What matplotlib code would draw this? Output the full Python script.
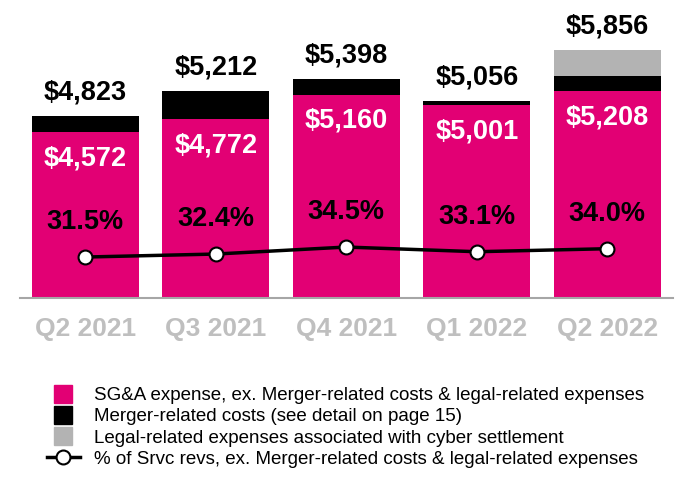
import matplotlib
matplotlib.use("Agg")
import matplotlib.pyplot as plt
from matplotlib.lines import Line2D
import numpy as np

plt.rcParams["font.family"] = ["Liberation Sans", "DejaVu Sans"]

quarters = ["Q2 2021", "Q3 2021", "Q4 2021", "Q1 2022", "Q2 2022"]
sga_ex = [4572, 4772, 5160, 5001, 5208]
merger_costs = [251, 440, 238, 55, 248]
legal_costs = [0, 0, 0, 0, 400]
totals = [4823, 5212, 5398, 5056, 5856]
pct_srvc = [31.5, 32.4, 34.5, 33.1, 34.0]

MAGENTA = "#E20074"
GREY = "#B3B3B3"

fig = plt.figure(figsize=(6.9, 5), dpi=100)
ax = fig.add_axes([20 / 690, 202 / 500, 652.5 / 690, 298 / 500])
ax2 = ax.twinx()

x = np.arange(len(quarters))
w = 0.82
sga = np.array(sga_ex)
mrg = np.array(merger_costs)
lgl = np.array(legal_costs)

ax.bar(x, sga, w, color=MAGENTA, zorder=2)
ax.bar(x, mrg, w, bottom=sga, color="black", zorder=2)
ax.bar(x, lgl, w, bottom=sga + mrg, color=GREY, zorder=2)

ax.set_ylim(1975, 6640)
ax.set_xlim(-0.5, len(quarters) - 0.5)

for xi, s, t in zip(x, sga_ex, totals):
    ax.annotate(f"${s:,}", (xi, s), xytext=(0, -19), textcoords="offset points",
                ha="center", va="center", color="white", fontsize=19.5,
                fontweight="bold")
    ax.annotate(f"${t:,}", (xi, t), xytext=(0, 17), textcoords="offset points",
                ha="center", va="center", color="black", fontsize=19.5,
                fontweight="bold")

ax2.plot(x, pct_srvc, color="black", lw=2.5, marker="o", markersize=10,
         markerfacecolor="white", markeredgecolor="black", markeredgewidth=1.5,
         zorder=3)
ax2.set_ylim(19.2, 19.2 + 298 / 3.33)
for xi, p in zip(x, pct_srvc):
    ax2.annotate(f"{p:.1f}%", (xi, p), xytext=(0, 25), textcoords="offset points",
                 ha="center", va="center", color="black", fontsize=19.5,
                 fontweight="bold")

for a in (ax, ax2):
    for side in ("top", "left", "right"):
        a.spines[side].set_visible(False)
    a.set_yticks([])
ax2.spines["bottom"].set_visible(False)
ax.spines["bottom"].set_color("#A6A6A6")
ax.spines["bottom"].set_linewidth(1.5)

ax.set_xticks(x)
ax.set_xticklabels(quarters, fontsize=19, fontweight="bold", color="#BFBFBF")
ax.tick_params(axis="x", length=0, pad=14)

handles = [
    Line2D([], [], ls="none", marker="s", markersize=13, color=MAGENTA),
    Line2D([], [], ls="none", marker="s", markersize=13, color="black"),
    Line2D([], [], ls="none", marker="s", markersize=13, color=GREY),
    Line2D([], [], color="black", lw=2.5, marker="o", markersize=10,
           markerfacecolor="white", markeredgewidth=1.5),
]
labels = [
    "SG&A expense, ex. Merger-related costs & legal-related expenses",
    "Merger-related costs (see detail on page 15)",
    "Legal-related expenses associated with cyber settlement",
    "% of Srvc revs, ex. Merger-related costs & legal-related expenses",
]
fig.legend(handles, labels, loc="upper left", bbox_to_anchor=(47 / 690, 1 - 387 / 500),
           frameon=False, fontsize=13.5, handlelength=1.75, handletextpad=0.75,
           labelspacing=0.22, borderpad=0, borderaxespad=0)

fig.savefig("out.png", dpi=100)
